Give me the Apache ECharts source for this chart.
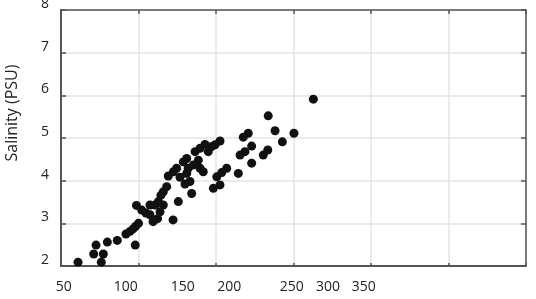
<!DOCTYPE html>
<html><head><meta charset="utf-8">
<script src="https://cdn.jsdelivr.net/npm/echarts@6/dist/echarts.min.js"></script>
<style>html,body{margin:0;padding:0;background:#fff}#c{width:536px;height:299px}</style>
</head><body><div id="c"></div>
<script>
const xValues = [61.0,71.1,72.6,77.3,76.0,79.9,86.3,91.9,94.5,96.5,98.1,100.0,97.9,98.7,102.1,104.8,107.4,107.4,110.6,112.8,
  109.4,112.3,122.3,114.5,116.0,118.2,119.2,124.6,131.1,136.5,139.7,142.9,149.4,152.6,126.8,131.1,122.5,128.9,132.1,135.4,
  138.6,141.8,145.0,147.2,130.0,134.3,125.7,133.2,148.3,152.6,150.5,153.7,156.9,164.4,165.5,168.7,173.0,180.5,183.4,173.0,
  167.6,170.8,183.7,188.1,192.8,200.3,212.8,116.0,113.9,139.7];
const salinity = [2.09,2.28,2.49,2.28,2.09,2.56,2.60,2.75,2.81,2.87,2.93,3.00,2.49,3.42,3.31,3.24,3.43,3.20,3.43,3.51,
  3.04,3.11,3.08,3.66,3.74,3.86,4.11,4.29,4.52,4.68,4.76,4.85,4.84,4.93,4.08,4.17,4.21,4.44,4.29,4.37,
  4.48,4.21,4.68,4.80,3.92,3.70,3.51,3.98,3.82,3.90,4.09,4.19,4.29,4.17,4.60,4.68,4.41,4.60,4.72,4.81,
  5.02,5.11,5.52,5.17,4.91,5.11,5.91,3.43,3.27,4.29];
const xTickLabels = ['50','100','150','200','250','300','350'];
const xTickLabelAt = [51.7,91.7,128.5,158.6,198.8,222.3,245.3];
const yAxisName = 'Salinity (PSU)';

const points = xValues.map((x, i) => [x, salinity[i]]);
const font = 'Open Sans';
const frame = '#555';
const gridC = '#e4e4e4';

const chart = echarts.init(document.getElementById('c'), null, {renderer: 'canvas'});
chart.setOption({
  animation: false,
  backgroundColor: '#fff',
  grid: {left: 61, right: 10, top: 10, bottom: 33, containLabel: false, outerBoundsMode: 'none'},
  xAxis: [
    {type: 'value', min: 50, max: 350, interval: 50, position: 'bottom',
     axisLine: {show: true, onZero: false, lineStyle: {color: frame, width: 2}},
     axisTick: {show: true, inside: true, length: 3, lineStyle: {color: frame, width: 1.5}},
     axisLabel: {show: false},
     splitLine: {show: true, lineStyle: {color: gridC, width: 1.5}}},
    {type: 'value', min: 50, max: 350, interval: 50, position: 'top',
     axisLine: {show: true, onZero: false, lineStyle: {color: frame, width: 1.5}},
     axisTick: {show: true, inside: true, length: 4, lineStyle: {color: frame, width: 1.5}},
     axisLabel: {show: false}, splitLine: {show: false}}
  ],
  yAxis: [
    {type: 'value', min: 2, max: 8, interval: 1, position: 'left',
     name: yAxisName, nameLocation: 'middle', nameGap: 41, nameRotate: 90,
     nameTextStyle: {fontSize: 16, color: '#222', fontFamily: font, padding: [0, 0, 0, 50]},
     axisLine: {show: true, onZero: false, lineStyle: {color: frame, width: 2}},
     axisTick: {show: true, inside: true, length: 5, lineStyle: {color: frame, width: 1.5}},
     axisLabel: {margin: 12, fontSize: 14, color: '#222', fontFamily: font, verticalAlign: 'bottom', lineHeight: 12},
     splitLine: {show: true, lineStyle: {color: gridC, width: 1.5}}},
    {type: 'value', min: 2, max: 8, interval: 1, position: 'right',
     axisLine: {show: true, onZero: false, lineStyle: {color: frame, width: 1.5}},
     axisTick: {show: true, inside: true, length: 5, lineStyle: {color: frame, width: 1.5}},
     axisLabel: {show: false}, splitLine: {show: false}}
  ],
  series: [{
    type: 'scatter', xAxisIndex: 0, yAxisIndex: 0, data: points,
    symbol: 'circle', symbolSize: 9,
    itemStyle: {color: '#111', opacity: 1}
  }]
});

// tick labels placed where they sit in the source figure, via the x axis scale
chart.setOption({
  graphic: xTickLabels.map((t, i) => {
    const p = chart.convertToPixel({xAxisIndex: 0}, xTickLabelAt[i]);
    return {type: 'text', x: p, y: 287, style: {text: t, font: '14px "Open Sans"', fill: '#222', align: 'center', verticalAlign: 'middle'}};
  })
});
</script>
</body></html>
